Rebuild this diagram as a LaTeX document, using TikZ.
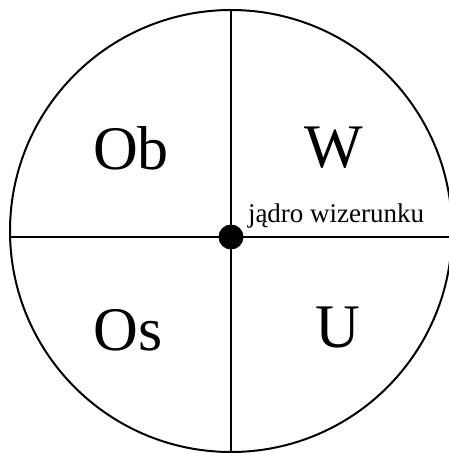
\documentclass[tikz,border=0pt]{standalone}
\usepackage{fontspec}
\setmainfont{Liberation Serif}
\usetikzlibrary{positioning}

\begin{document}
\begin{tikzpicture}[
  x=1pt,y=-1pt,
  line width=2pt,
  big/.style={font=\fontsize{62}{62}\selectfont,inner sep=0pt},
  lab/.style={font=\fontsize{27}{27}\selectfont,inner sep=0pt,anchor=base west},
  core/.style={circle,fill=black,minimum size=25pt,inner sep=0pt}
]
\clip (0,0) rectangle (449,453);

\coordinate (top) at (231,10);
\coordinate (bot) at (231,453);
\coordinate (lft) at (10,237);
\coordinate (rgt) at (449,237);

\draw (231,231) circle (221);
\draw (top) -- (bot);
\draw (lft) -- (rgt);

\node[core] (c) at (231,237) {};

\node[big] (ob) at (131,148) {Ob};
\node[big] (w) at (334,148) {W};
\node[big] (os) at (128,330) {Os};
\node[big] (u) at (338,327) {U};

\node[lab] (jw) at (247,222) {jądro wizerunku};

\end{tikzpicture}
\end{document}
